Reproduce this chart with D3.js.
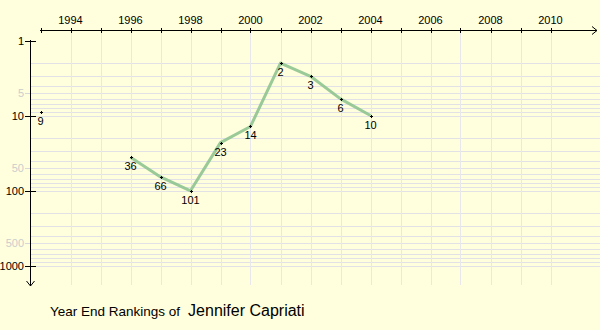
<!DOCTYPE html>
<html><head><meta charset="utf-8">
<script src="https://cdn.jsdelivr.net/npm/d3@7"></script>
<style>body{margin:0;background:#ffffdd;}svg{display:block;}</style>
</head><body>
<svg id="c" width="600" height="330"></svg>
<script>
const years = [1993, 1994, 1995, 1996, 1997, 1998, 1999, 2000, 2001, 2002, 2003, 2004];
const ranks = [9, null, null, 36, 66, 101, 23, 14, 2, 3, 6, 10];
const xTickYears = d3.range(1993, 2011);
const xLabelYears = [1994, 1996, 1998, 2000, 2002, 2004, 2006, 2008, 2010];
const yMajor = [1, 10, 100, 1000];
const yMinorLabeled = [5, 50, 500];
const titlePrefix = "Year End Rankings of";
const playerName = "Jennifer Capriati";

const svg = d3.select("#c");
svg.append("rect").attr("width",600).attr("height",330).attr("fill","#ffffdd");

const x = d3.scaleLinear().domain([1993, 2010]).range([40.5, 550.5]);
const y = d3.scaleLog().domain([1, 1000]).range([40.5, 265.5]);
const axisY = 30.5, axisX = 30.5;

// grid
const gridVals = [];
[1,10,100].forEach(d => { for (let k=2;k<=10;k++) gridVals.push(d*k); });
svg.append("g").selectAll("line").data(gridVals).join("line")
  .attr("x1", axisX).attr("x2", 600)
  .attr("y1", d => Math.round(y(d))+0.5).attr("y2", d => Math.round(y(d))+0.5)
  .attr("stroke", "#e2e2e6").attr("stroke-width", 1);
svg.append("g").selectAll("line").data(xTickYears.filter(d=>d>1993)).join("line")
  .attr("x1", d => Math.round(x(d))+0.5).attr("x2", d => Math.round(x(d))+0.5)
  .attr("y1", axisY).attr("y2", 285)
  .attr("stroke", "#e8e8ec").attr("stroke-width", 1);

// x axis
const gx = svg.append("g");
gx.append("line").attr("x1", 40).attr("x2", 597).attr("y1", axisY).attr("y2", axisY).attr("stroke","#000");
gx.append("path").attr("d", "M592,26.5L597,30.5L592,34.5").attr("fill","none").attr("stroke","#000");
gx.selectAll(".t").data(xTickYears).join("line")
  .attr("x1", d => Math.round(x(d))+0.5).attr("x2", d => Math.round(x(d))+0.5)
  .attr("y1", 28).attr("y2", 33).attr("stroke","#000");
gx.selectAll("text").data(xLabelYears).join("text")
  .attr("x", d => x(d)).attr("y", 24).attr("text-anchor","middle")
  .attr("font-family","Liberation Sans, Arial, sans-serif").attr("font-size", 11)
  .text(d => d);

// y axis
const gy = svg.append("g");
gy.append("line").attr("x1", axisX).attr("x2", axisX).attr("y1", 40).attr("y2", 286).attr("stroke","#000");
gy.append("path").attr("d", "M26.5,281L30.5,286L34.5,281").attr("fill","none").attr("stroke","#000");
gy.selectAll(".mt").data(yMajor).join("line")
  .attr("x1", 25).attr("x2", 36)
  .attr("y1", d => Math.round(y(d))+0.5).attr("y2", d => Math.round(y(d))+0.5).attr("stroke","#000");
gy.selectAll(".ml").data(yMajor).join("text")
  .attr("x", 24).attr("y", d => y(d)+4).attr("text-anchor","end")
  .attr("font-family","Liberation Sans, Arial, sans-serif").attr("font-size", 11)
  .text(d => d);
gy.selectAll(".nt").data(yMinorLabeled).join("line")
  .attr("x1", 25).attr("x2", 30)
  .attr("y1", d => Math.round(y(d))+0.5).attr("y2", d => Math.round(y(d))+0.5).attr("stroke","#d8d8d8");
gy.selectAll(".nl").data(yMinorLabeled).join("text")
  .attr("x", 24).attr("y", d => y(d)+4).attr("text-anchor","end")
  .attr("font-family","Liberation Sans, Arial, sans-serif").attr("font-size", 11)
  .attr("fill","#cccccc")
  .text(d => d);

// data
const data = years.map((yr,i) => ({year: yr, rank: ranks[i]}));
const line = d3.line().defined(d => d.rank != null).x(d => x(d.year)).y(d => y(d.rank));
svg.append("path").datum(data).attr("d", line)
  .attr("fill","none").attr("stroke","#8fc48f").attr("stroke-width",3).attr("stroke-opacity",0.9)
  .attr("stroke-linejoin","round");
const pts = data.filter(d => d.rank != null);
svg.append("g").selectAll("path").data(pts).join("path")
  .attr("d", d => { const px=Math.round(x(d.year)), py=Math.round(y(d.rank)); return `M${px-1},${py+0.5}H${px+2}M${px+0.5},${py-1}V${py+2}`; })
  .attr("stroke","#000").attr("stroke-width",1);
svg.append("g").selectAll("text").data(pts).join("text")
  .attr("x", d => x(d.year)).attr("y", d => y(d.rank)+13).attr("text-anchor","middle")
  .attr("font-family","Liberation Sans, Arial, sans-serif").attr("font-size", 11)
  .text(d => d.rank);

// title
const t = svg.append("text").attr("x", 50).attr("y", 316)
  .attr("font-family","Liberation Sans, Arial, sans-serif").attr("fill","#000");
t.append("tspan").attr("font-size", 13.5).text(titlePrefix);
t.append("tspan").attr("font-size", 16).attr("dx", 8).text(playerName);
</script>
</body></html>
